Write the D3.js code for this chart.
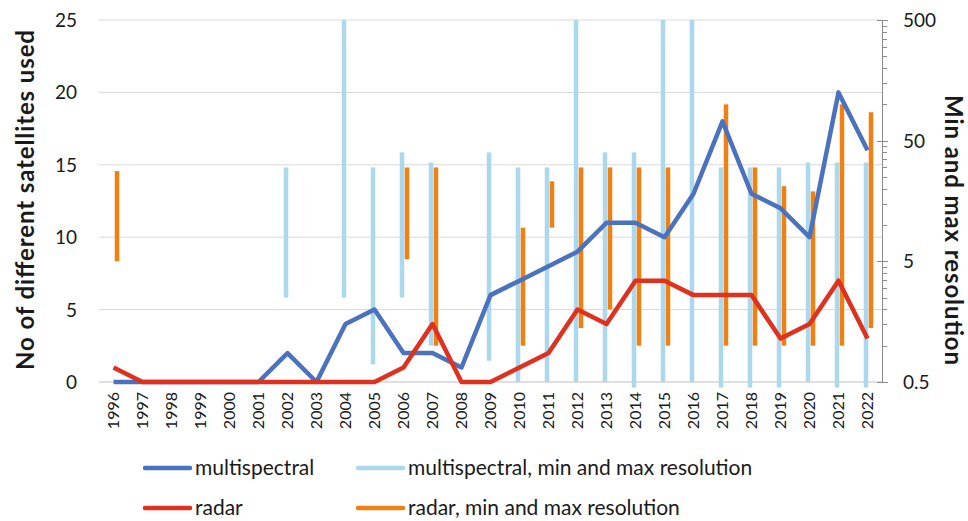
<!DOCTYPE html>
<html lang="en">
<head>
    <meta charset="UTF-8">
    <title>Satellites used</title>
    <style>
        body{margin:0;background:#fff;}
        svg text{font-family:Lato,"Noto Sans",sans-serif;fill:#1a1a1a;}
        .grid line{stroke:#d9d9d9;stroke-width:1;}
        .axis path,.axis line{fill:none;stroke:#8c8c8c;shape-rendering:crispEdges;}
    </style>
    <script src="https://cdn.jsdelivr.net/npm/d3@7"></script>
</head>
<body>
<script>
    // data
    var years = ["1996","1997","1998","1999","2000","2001","2002","2003","2004","2005","2006","2007","2008","2009",
                 "2010","2011","2012","2013","2014","2015","2016","2017","2018","2019","2020","2021","2022"];
    var multispectral = [0,0,0,0,0,0,2,0,4,5,2,2,1,6,7,8,9,11,11,10,13,18,13,12,10,20,16];
    var radar         = [1,0,0,0,0,0,0,0,0,0,1,4,0,0,1,2,5,4,7,7,6,6,6,3,4,7,3];
    // min and max resolution (right axis, log)
    var msMin = [null,null,null,null,null,null,2.5,null,2.5,0.7,2.5,1,null,0.75,0.5,0.5,0.5,0.5,0.45,0.5,0.5,0.45,0.45,0.45,0.5,0.45,0.45];
    var msMax = [null,null,null,null,null,null,30,null,500,30,40,33,null,40,30,30,500,40,40,500,500,30,30,30,33,33,33];
    var rdMin = [5,null,null,null,null,null,null,null,null,null,5.2,1,null,null,1,9.5,1.4,2,1,1,null,1,1,1,1,1,1.4];
    var rdMax = [28,null,null,null,null,null,null,null,null,null,30,30,null,null,9.5,23,30,30,30,30,null,100,30,21,19,100,86];
    var leftTicks = [0,5,10,15,20,25];
    var rightTicks = [0.5,5,50,500];

    var width = 968, height = 521;
    var padding = {top:20, right:86, bottom:139, left:99};

    var svg = d3.select("body").append("svg")
        .attr("width", width).attr("height", height);

    var x = d3.scaleBand().domain(years).range([padding.left, width - padding.right]);
    var yL = d3.scaleLinear().domain([0,25]).range([height - padding.bottom, padding.top]);
    var yR = d3.scaleLog().domain([0.5,500]).range([height - padding.bottom, padding.top]);
    var cx = function(i){ return x(years[i]) + x.bandwidth()/2; };

    // gridlines
    svg.append("g").attr("class","grid")
        .selectAll("line").data(leftTicks.slice(1)).enter().append("line")
        .attr("x1", padding.left).attr("x2", width - padding.right)
        .attr("y1", function(d){return yL(d);}).attr("y2", function(d){return yL(d);});

    // x axis line
    svg.append("line")
        .attr("x1", padding.left).attr("x2", width - padding.right)
        .attr("y1", yL(0)).attr("y2", yL(0))
        .attr("stroke","#bfbfbf").attr("stroke-width",1);

    // left tick labels
    svg.selectAll(".ltick").data(leftTicks).enter().append("text")
        .attr("x", 77).attr("y", function(d){return yL(d) + 7;})
        .attr("text-anchor","end").attr("font-size",19)
        .text(function(d){return d;});

    // right log axis with minor ticks
    var minor = [];
    [0.5,5,50].forEach(function(b){ for (var k=1;k<=10;k++) minor.push(+(b*k).toPrecision(3)); });
    var rAxis = svg.append("g").attr("class","axis")
        .attr("transform","translate(" + (width - padding.right) + ",0)")
        .call(d3.axisRight(yR).tickValues(minor).tickSize(5).tickFormat(""));
    rAxis.selectAll(".tick line").filter(function(d){ return rightTicks.indexOf(d) >= 0; })
        .attr("x1",-5).attr("x2",6);
    svg.selectAll(".rtick").data(rightTicks).enter().append("text")
        .attr("x", 903).attr("y", function(d){return yR(d) + 7;})
        .attr("font-size",19)
        .text(function(d){return d;});

    // x labels
    svg.selectAll(".xlab").data(years).enter().append("text")
        .attr("transform", function(d,i){ return "translate(" + (cx(i) + 5.5) + "," + 392 + ") rotate(-90)"; })
        .attr("text-anchor","end").attr("font-size",16)
        .text(function(d){return d;});

    // axis titles
    svg.append("text")
        .attr("transform","translate(34,200) rotate(-90)")
        .attr("text-anchor","middle").attr("font-size",24).attr("font-weight","bold")
        .attr("textLength",340).attr("lengthAdjust","spacing")
        .text("No of different satellites used");
    svg.append("text")
        .attr("transform","translate(945,230) rotate(90)")
        .attr("text-anchor","middle").attr("font-size",24).attr("font-weight","bold")
        .attr("textLength",270).attr("lengthAdjust","spacing")
        .text("Min and max resolution");

    // resolution range bars
    var cMs = "#acd8ee", cRd = "#f08012", cBlue = "#4a72be", cRed = "#e0301e";
    function bars(mins, maxs, off, color) {
        svg.append("g").selectAll("rect")
            .data(years.map(function(d,i){ return {i:i, lo:mins[i], hi:maxs[i]}; })
                .filter(function(d){ return d.lo != null; }))
            .enter().append("rect")
            .attr("x", function(d){ return cx(d.i) + off - 2.25; })
            .attr("width", 4.5)
            .attr("y", function(d){ return yR(d.hi); })
            .attr("height", function(d){ return yR(d.lo) - yR(d.hi); })
            .attr("fill", color);
    }
    bars(msMin, msMax, -1.5, cMs);
    bars(rdMin, rdMax, 3.5, cRd);

    // lines
    var line = d3.line()
        .x(function(d,i){ return cx(i); })
        .y(function(d){ return yL(d); });
    svg.append("path").attr("d", line(multispectral))
        .attr("fill","none").attr("stroke", cBlue).attr("stroke-width",4.5)
        .attr("stroke-linejoin","round");
    svg.append("path").attr("d", line(radar))
        .attr("fill","none").attr("stroke", cRed).attr("stroke-width",4.5)
        .attr("stroke-linejoin","round");

    // legend
    var legend = [
        {name:"multispectral", color:cBlue, x:145, y:468},
        {name:"multispectral, min and max resolution", color:cMs, x:358, y:468},
        {name:"radar", color:cRed, x:145, y:508},
        {name:"radar, min and max resolution", color:cRd, x:358, y:508}
    ];
    var lg = svg.selectAll(".lg").data(legend).enter().append("g");
    lg.append("line")
        .attr("x1", function(d){return d.x;}).attr("x2", function(d){return d.x + 45;})
        .attr("y1", function(d){return d.y;}).attr("y2", function(d){return d.y;})
        .attr("stroke", function(d){return d.color;}).attr("stroke-width",4.5)
        .attr("stroke-linecap","round");
    lg.append("text")
        .attr("x", function(d){return d.x + 50;}).attr("y", function(d){return d.y + 7;})
        .attr("font-size",21)
        .text(function(d){return d.name;});
</script>
</body>
</html>
